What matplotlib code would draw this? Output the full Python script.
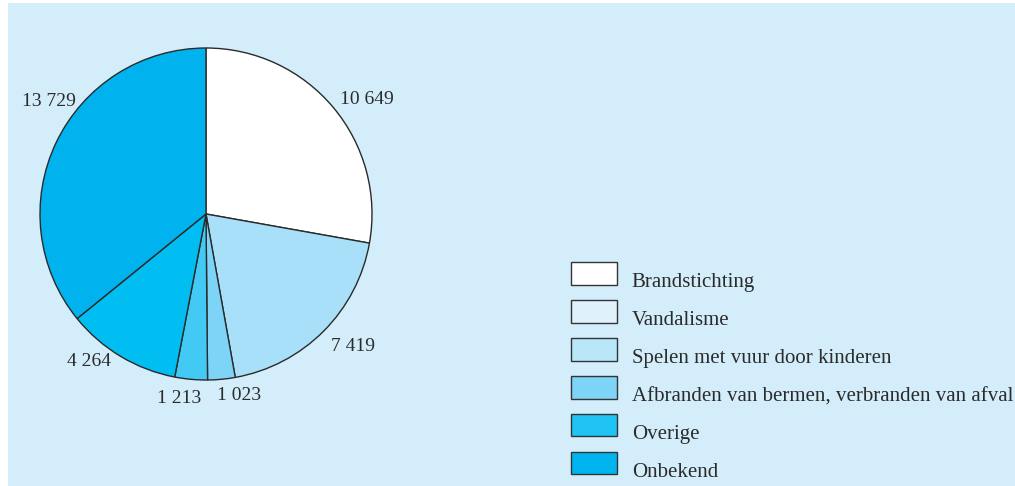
import numpy as np
import matplotlib
matplotlib.use("Agg")
import matplotlib.pyplot as plt
import matplotlib.patches as mpatches
from matplotlib.legend_handler import HandlerPatch

# ── Data ──────────────────────────────────────────────────────────────────────
categories = ["Brandstichting", "Vandalisme", "Spelen met vuur door kinderen",
              "Afbranden van bermen, verbranden van afval", "Overige", "Onbekend"]
counts = [10649, 7419, 1023, 1213, 4264, 13729]
count_labels = ["10 649", "7 419", "1 023", "1 213", "4 264", "13 729"]

slice_colors = ["#ffffff", "#a9e0f9", "#7dd4f6", "#42c9f4", "#00bef2", "#00b3ee"]
legend_colors = ["#ffffff", "#dff2fc", "#b9e6f9", "#7dd4f6", "#1fc3f4", "#00b5ef"]

BG = "#d3eefa"
EDGE = "#2a2a2a"
TXT = "#2b2b2b"

plt.rcParams.update({"font.family": "Liberation Serif"})

W, H = 1015, 486
fig = plt.figure(figsize=(W / 100, H / 100), dpi=100, facecolor="white")

# light blue panel behind everything
fig.patches.append(mpatches.Rectangle((8 / W, 0), 1 - 8 / W, 1 - 3 / H,
                                      transform=fig.transFigure,
                                      facecolor=BG, edgecolor="none", zorder=-5))

# ── Pie ───────────────────────────────────────────────────────────────────────
cx, cy, r = 206, 214, 166
ax = fig.add_axes([(cx - r) / W, (H - cy - r) / H, 2 * r / W, 2 * r / H])

wedges, _ = ax.pie(counts, colors=slice_colors, startangle=90, counterclock=False,
                   radius=1, wedgeprops=dict(edgecolor=EDGE, linewidth=1.0))
ax.set_xlim(-1, 1)
ax.set_ylim(-1, 1)
ax.axis("off")

# labels placed outside each wedge (small angle nudges like the print)
nudge = [-4.5, 3, 5, -3, -7.5, -10]
dist = [1.19, 1.19, 1.11, 1.12, 1.135, 1.165]
for w, lab, dn, d in zip(wedges, count_labels, nudge, dist):
    ang = np.deg2rad((w.theta1 + w.theta2) / 2 + dn)
    ax.text(d * np.cos(ang), d * np.sin(ang), lab, ha="center", va="center",
            fontsize=14, color=TXT, clip_on=False)

# ── Legend ────────────────────────────────────────────────────────────────────
def raised_box(legend, orig_handle, xdescent, ydescent, width, height, fontsize):
    # box sits a little higher than the label text, as in the print
    return mpatches.Rectangle((-xdescent, -ydescent + 5), width, height)

handles = [mpatches.Patch(facecolor=c, edgecolor="#333333", linewidth=1.0)
           for c in legend_colors]
fs = 15
fig.legend(handles, categories, loc="upper left",
           bbox_to_anchor=(571 / W, 1 - 269 / H), frameon=False,
           fontsize=fs, handlelength=2.2, handleheight=1.3,
           handletextpad=0.72, labelspacing=0.7, borderpad=0,
           borderaxespad=0, labelcolor=TXT,
           handler_map={mpatches.Patch: HandlerPatch(patch_func=raised_box)})

fig.savefig("out.png", dpi=100, facecolor="white")
